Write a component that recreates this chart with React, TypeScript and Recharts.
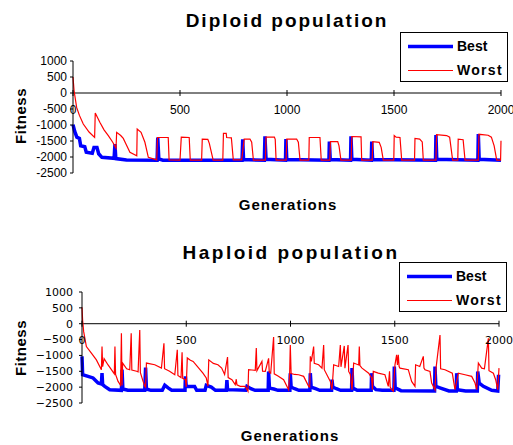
import React from "react"
import { Legend, Line, LineChart, ReferenceLine, XAxis, YAxis } from "recharts"

// [generation, fitness]
const diploidBest: [number, number][] = [
  [0, -990], [8, -1200], [18, -1380], [30, -1420], [36, -1650], [55, -1680], [62, -1850], [90, -1880],
  [98, -1700], [112, -1700], [120, -1900], [135, -2010], [192, -2040], [196, -1600], [200, -2050],
  [250, -2090], [393, -2100], [396, -1390], [401, -2060], [420, -2100], [790, -2100], [793, -1450],
  [797, -2080], [894, -2100], [897, -1355], [902, -2070], [993, -2100], [995, -1440], [999, -2080],
  [1196, -2100], [1198, -1520], [1202, -2080], [1297, -2100], [1299, -1355], [1303, -2070], [1394, -2100],
  [1396, -1520], [1400, -2080], [1694, -2100], [1696, -1310], [1700, -2070], [1892, -2100], [1894, -1280],
  [1898, -2070], [2000, -2100],
]

const diploidWorst: [number, number][] = [
  [0, 500], [5, 70], [17, -450], [30, -700], [48, -970], [75, -1220], [101, -1390],
  [104, -625], [126, -920], [145, -1150], [165, -1330], [185, -1530], [201, -1720],
  [204, -1230], [223, -1330], [235, -1420], [248, -1600], [266, -1850], [298, -1960],
  [300, -1125], [318, -1230], [327, -1380], [336, -1540], [352, -2010], [391, -2090],
  [395, -1390], [445, -1390], [449, -2090], [500, -2100], [506, -1380], [543, -1390], [548, -2100],
  [601, -2100], [604, -1440], [630, -1450], [637, -1575], [655, -2100], [700, -2100], [703, -1260],
  [716, -1260], [718, -1390], [740, -1400], [749, -2090], [788, -2090], [800, -1440], [827, -1440],
  [835, -1540], [843, -2100], [899, -2100], [902, -1380], [941, -1380], [945, -1450], [949, -2100],
  [996, -2100], [999, -1440], [1045, -1440], [1053, -1540], [1061, -2100], [1102, -2100], [1104, -1390],
  [1154, -1390], [1160, -2100], [1200, -2100], [1203, -1520], [1237, -1520], [1243, -1650], [1252, -2100],
  [1300, -2100], [1303, -1360], [1346, -1370], [1349, -2100], [1398, -2100], [1401, -1520], [1431, -1540],
  [1440, -1700], [1450, -2100], [1499, -2100], [1501, -1330], [1510, -1380], [1528, -1390], [1536, -2100],
  [1596, -2100], [1598, -1420], [1620, -1440], [1632, -1530], [1637, -2100], [1696, -2100], [1699, -1300],
  [1746, -1330], [1760, -1380], [1774, -2100], [1798, -2100], [1800, -1440], [1823, -1460], [1832, -2100],
  [1894, -2100], [1897, -1290], [1940, -1320], [1955, -1380], [1968, -1650], [1980, -2100], [1998, -2100],
  [2000, -1490],
]

const haploidBest: [number, number][] = [
  [0, -1030], [3, -1610], [29, -1660], [53, -1710], [77, -1870], [93, -1900], [96, -1560], [99, -1920],
  [109, -1975], [133, -2080], [189, -2100], [192, -1450], [196, -2060], [220, -2100], [301, -2100],
  [305, -1380], [309, -2060], [330, -2100], [385, -2100], [397, -1940], [413, -2025], [430, -2100],
  [494, -2100], [496, -1660], [500, -1975], [540, -1980], [550, -2100], [590, -2100], [596, -1940],
  [620, -2000], [640, -2100], [692, -2100], [695, -1780], [698, -2080], [785, -2100], [791, -1975],
  [810, -2050], [830, -2100], [893, -2100], [895, -1505], [899, -2030], [920, -2060], [940, -2100],
  [997, -2100], [999, -1560], [1003, -2000], [1020, -2050], [1040, -2100], [1093, -2100], [1095, -1560],
  [1099, -2000], [1120, -2050], [1140, -2100], [1197, -2100], [1199, -1765], [1203, -2000], [1220, -2050],
  [1240, -2100], [1293, -2100], [1295, -1400], [1299, -2030], [1320, -2100], [1387, -2100], [1389, -1560],
  [1393, -1975], [1410, -2080], [1440, -2100], [1496, -2100], [1498, -1350], [1502, -2025], [1530, -2110],
  [1691, -2120], [1693, -1350], [1697, -1975], [1720, -2030], [1760, -2120], [1795, -2120], [1797, -1560],
  [1800, -2080], [1840, -2120], [1896, -2120], [1898, -1505], [1905, -1870], [1925, -1975], [1965, -2100],
  [1994, -2120], [1998, -1610],
]

const haploidWorst: [number, number][] = [
  [0, 520], [3, 100], [8, -250], [21, -720], [45, -930], [69, -1140], [93, -1450],
  [96, -720], [99, -1350], [106, -1100], [125, -1300], [141, -1450], [155, -1580],
  [158, -720], [161, -1600], [173, -1820], [185, -1940], [189, -300], [192, -1950],
  [195, -1240], [214, -1420], [229, -1450], [236, -300], [239, -1460], [262, -1500], [269, -1520],
  [277, -200], [280, -1540], [293, -1820], [301, -1970], [305, -2000], [309, -1240], [349, -1295],
  [381, -1400], [393, -615], [396, -1420], [420, -1500], [445, -1610], [457, -820], [460, -1630],
  [475, -1700], [480, -900], [483, -1720], [496, -1765], [500, -1990], [505, -1080], [520, -1150],
  [533, -1190], [560, -1400], [580, -1560], [596, -1710], [604, -1970], [608, -1140], [630, -1250],
  [652, -1295], [670, -1400], [684, -1600], [698, -1050], [701, -1700], [719, -1765], [735, -1920],
  [740, -1750], [743, -1930], [759, -1975], [783, -1975], [796, -2130], [799, -1450], [815, -1460],
  [831, -1470], [836, -770], [839, -1480], [863, -1190], [866, -1500], [879, -1505], [895, -1090],
  [898, -1530], [905, -1560], [919, -420], [922, -1580], [940, -1650], [967, -1765], [991, -2080],
  [996, -1560], [999, -670], [1003, -1570], [1020, -1600], [1039, -1610], [1063, -1660], [1087, -1975],
  [1092, -2000], [1095, -1030], [1100, -1190], [1111, -720], [1114, -1250], [1135, -1295], [1151, -1400],
  [1159, -670], [1162, -1450], [1191, -1820], [1199, -2080], [1207, -1295], [1231, -1350], [1239, -670],
  [1242, -1360], [1258, -700], [1261, -1400], [1276, -670], [1279, -1505], [1287, -1600], [1295, -2080],
  [1303, -1240], [1327, -1300], [1330, -720], [1333, -1320], [1343, -1400], [1375, -1560], [1389, -1710],
  [1393, -2080], [1397, -1505], [1421, -1560], [1453, -1610], [1469, -1975], [1475, -1500], [1478, -1990],
  [1485, -2080], [1493, -2130], [1501, -1295], [1509, -980], [1513, -1300], [1517, -980], [1521, -1350],
  [1525, -1400], [1565, -1450], [1581, -1820], [1597, -1975], [1600, -1295], [1620, -1350], [1637, -1030],
  [1640, -1400], [1645, -1450], [1669, -1505], [1677, -1870], [1693, -2080], [1698, -1400], [1717, -355],
  [1720, -1420], [1741, -1450], [1776, -1560], [1782, -1800], [1789, -2080], [1805, -1560], [1837, -1610],
  [1869, -1660], [1885, -1870], [1893, -2080], [1901, -1240], [1917, -1400], [1930, -1420], [1949, -460],
  [1952, -1480], [1973, -1560], [1984, -1765], [1994, -2080], [2000, -1400],
]

const xTicks = [0, 500, 1000, 1500, 2000]
const yTicks = [1000, 500, 0, -500, -1000, -1500, -2000, -2500]
const seriesNames = ["Best", "Worst"]

const BLUE = "#0000ff"
const RED = "#ff0000"
const ARIAL = "'Liberation Sans', Arial, sans-serif"
const VERDANA = "'DejaVu Sans', Verdana, sans-serif"

const toPoints = (rows: [number, number][]) => rows.map(([gen, fit]) => ({ gen, fit }))

const LegendBox = ({ payload }: any) => (
  <svg width={108} height={50} style={{ display: "block" }}>
    <rect x={0.5} y={0.5} width={107} height={49} fill="#fff" stroke="#000" strokeWidth={1} />
    {(payload || []).map((entry: any, i: number) => {
      const y = i === 0 ? 14.5 : 38.5
      return (
        <g key={entry.value}>
          <line x1={8} x2={53} y1={y} y2={y} stroke={entry.color} strokeWidth={i === 0 ? 3.5 : 1.2} />
          <text x={57} y={y} dy="0.355em" fontFamily={ARIAL} fontWeight="bold" fontSize={14}
            letterSpacing={i === 0 ? 0 : 1.3} fill="#000">
            {entry.value}
          </text>
        </g>
      )
    })}
  </svg>
)

interface PanelProps {
  title: string
  best: [number, number][]
  worst: [number, number][]
  top: number
  height: number
  margin: { top: number; right: number; bottom: number; left: number }
  yWidth: number
  font: string
  fontSize: number
  minus: string
  tickGap: number
  labelDrop: number
  titleTop: number
  titleCenter: number
  titleSpacing: number
  fitnessCenter: number
  genTop: number
  genCenter: number
  legendLeft: number
  legendTop: number
}

function Panel(p: PanelProps) {
  const plotH = p.height - p.margin.top - p.margin.bottom - 1
  const zeroY = p.margin.top + (plotH * 1000) / 3500
  const fmt = (v: number) => (v < 0 ? p.minus + Math.abs(v) : String(v))

  const XTick = ({ x, payload }: any) => (
    <g>
      <line x1={x} x2={x} y1={zeroY - 3} y2={zeroY + 3} stroke="#000" />
      <text x={x} y={zeroY + p.labelDrop} dy="0.355em" textAnchor="middle" fontFamily={p.font}
        fontSize={p.fontSize} fill="#000">
        {fmt(payload.value)}
      </text>
    </g>
  )

  return (
    <div style={{ position: "absolute", left: 0, top: p.top, width: 513, height: p.height }}>
      <div style={{ position: "absolute", left: p.titleCenter, top: p.titleTop, transform: "translateX(-50%)",
        fontFamily: ARIAL, fontWeight: "bold", fontSize: 19, letterSpacing: p.titleSpacing, lineHeight: 1,
        whiteSpace: "nowrap" }}>
        {p.title}
      </div>
      <LineChart width={513} height={p.height} margin={p.margin}>
        <XAxis type="number" dataKey="gen" domain={[0, 2000]} ticks={xTicks} height={1}
          axisLine={false} tickLine={false} tick={<XTick />} interval={0} />
        <YAxis type="number" dataKey="fit" domain={[-2500, 1000]} ticks={yTicks} width={p.yWidth}
          interval={0} axisLine={{ stroke: "#000" }} tickLine={{ stroke: "#000" }} tickSize={3}
          tickMargin={p.tickGap} tickFormatter={fmt}
          tick={{ fill: "#000", fontFamily: p.font, fontSize: p.fontSize }} />
        <ReferenceLine y={0} stroke="#000" strokeWidth={1} />
        <Line data={toPoints(p.best)} dataKey="fit" name={seriesNames[0]} type="linear" stroke={BLUE}
          strokeWidth={3.5} dot={false} isAnimationActive={false} />
        <Line data={toPoints(p.worst)} dataKey="fit" name={seriesNames[1]} type="linear" stroke={RED}
          strokeWidth={1.2} dot={false} isAnimationActive={false} />
        <Legend layout="horizontal" verticalAlign="middle" align="center" content={<LegendBox />}
          wrapperStyle={{ left: p.legendLeft, top: p.legendTop, width: 108, height: 50 }} />
      </LineChart>
      <div style={{ position: "absolute", left: 19.5, top: p.fitnessCenter, transform: "translate(-50%, -50%) rotate(-90deg)",
        fontFamily: ARIAL, fontWeight: "bold", fontSize: 15, letterSpacing: 0.5, lineHeight: 1, whiteSpace: "nowrap" }}>
        Fitness
      </div>
      <div style={{ position: "absolute", left: p.genCenter, top: p.genTop, transform: "translateX(-50%)",
        fontFamily: ARIAL, fontWeight: "bold", fontSize: 15, letterSpacing: 1, lineHeight: 1, whiteSpace: "nowrap" }}>
        Generations
      </div>
    </div>
  )
}

export default function App() {
  return (
    <div style={{ position: "absolute", left: 0, top: 0, width: 513, height: 445, background: "#fff" }}>
      <Panel title="Diploid population" best={diploidBest} worst={diploidWorst} top={0} height={225}
        margin={{ top: 61, right: 12, bottom: 51, left: 0 }} yWidth={73} font={ARIAL} fontSize={12}
        minus="-" tickGap={3} labelDrop={17} titleTop={11} titleCenter={287} titleSpacing={2}
        fitnessCenter={116} genTop={197} genCenter={288} legendLeft={400} legendTop={32} />
      <Panel title="Haploid population" best={haploidBest} worst={haploidWorst} top={230} height={215}
        margin={{ top: 62, right: 14, bottom: 41, left: 0 }} yWidth={82} font={VERDANA} fontSize={11}
        minus={"\u2212"} tickGap={6} labelDrop={16} titleTop={13} titleCenter={291} titleSpacing={2.5}
        fitnessCenter={117.5} genTop={198} genCenter={290} legendLeft={399} legendTop={32} />
    </div>
  )
}
